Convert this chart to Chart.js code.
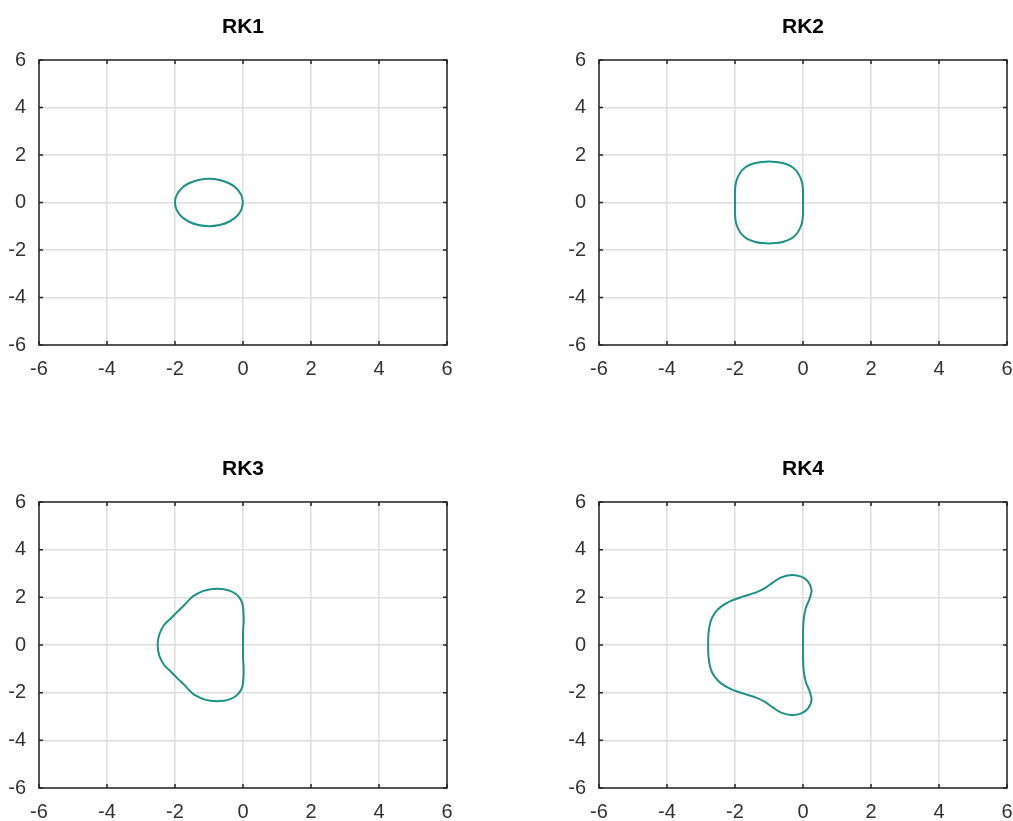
<!DOCTYPE html>
<html>
<head>
<meta charset="utf-8">
<script src="https://cdn.jsdelivr.net/npm/chart.js@4.4.0/dist/chart.umd.min.js"></script>
<style>
  html, body { margin: 0; padding: 0; background: #fff; width: 1013px; height: 821px; overflow: hidden; }
  .panel { position: absolute; width: 506px; }
</style>
</head>
<body>
<div class="panel" style="left:0;top:0;height:400px"><canvas id="rk1"></canvas></div>
<div class="panel" style="left:507px;top:0;height:400px"><canvas id="rk2"></canvas></div>
<div class="panel" style="left:0;top:442px;height:401px"><canvas id="rk3"></canvas></div>
<div class="panel" style="left:507px;top:442px;height:401px"><canvas id="rk4"></canvas></div>
<script>
const titles = ['RK1', 'RK2', 'RK3', 'RK4'];
const tickValues = [-6, -4, -2, 0, 2, 4, 6];

const rk1X = [0, -0.05, -0.19, -0.41, -0.69, -1, -1.31, -1.59, -1.81, -1.95, -2, -1.95, -1.81, -1.59, -1.31, -1, -0.69, -0.41, -0.19, -0.05, 0];
const rk1Y = [0, 0.31, 0.59, 0.81, 0.95, 1, 0.95, 0.81, 0.59, 0.31, 0, -0.31, -0.59, -0.81, -0.95, -1, -0.95, -0.81, -0.59, -0.31, 0];

const rk2X = [0, 0, -0.03, -0.1, -0.2, -0.36, -0.6, -0.8, -1, -1.2, -1.4, -1.64, -1.8, -1.9, -1.97, -2, -2, -2, -1.97, -1.9, -1.8, -1.64, -1.4, -1.2, -1, -0.8, -0.6, -0.36, -0.2, -0.1, -0.03, 0, 0];
const rk2Y = [0, 0.5, 0.85, 1.12, 1.34, 1.53, 1.66, 1.71, 1.73, 1.71, 1.66, 1.53, 1.34, 1.12, 0.85, 0.5, 0, -0.5, -0.85, -1.12, -1.34, -1.53, -1.66, -1.71, -1.73, -1.71, -1.66, -1.53, -1.34, -1.12, -0.85, -0.5, 0];

const rk3X = [0, 0, 0.02, 0.01, -0.02, -0.1, -0.22, -0.38, -0.56, -0.76, -0.96, -1.16, -1.34, -1.49, -1.71, -1.94, -2.15, -2.32, -2.46, -2.51,
              -2.46, -2.32, -2.15, -1.94, -1.71, -1.49, -1.34, -1.16, -0.96, -0.76, -0.56, -0.38, -0.22, -0.1, -0.02, 0.01, 0.02, 0, 0];
const rk3Y = [0, 0.5, 1.0, 1.45, 1.75, 1.98, 2.15, 2.27, 2.34, 2.36, 2.34, 2.27, 2.16, 2.02, 1.7, 1.38, 1.08, 0.84, 0.45, 0,
              -0.45, -0.84, -1.08, -1.38, -1.7, -2.02, -2.16, -2.27, -2.34, -2.36, -2.34, -2.27, -2.15, -1.98, -1.75, -1.45, -1.0, -0.5, 0];

const rk4X = [0, 0, 0.02, 0.08, 0.2, 0.25, 0.15, -0.05, -0.34, -0.64, -0.89, -1.13, -1.38, -1.77, -2.12, -2.41, -2.6, -2.72, -2.78, -2.79,
              -2.78, -2.72, -2.6, -2.41, -2.12, -1.77, -1.38, -1.13, -0.89, -0.64, -0.34, -0.05, 0.15, 0.25, 0.2, 0.08, 0.02, 0, 0];
const rk4Y = [0, 0.49, 1.05, 1.54, 1.96, 2.31, 2.66, 2.87, 2.94, 2.84, 2.62, 2.38, 2.21, 2.03, 1.85, 1.61, 1.33, 0.98, 0.49, 0,
              -0.49, -0.98, -1.33, -1.61, -1.85, -2.03, -2.21, -2.38, -2.62, -2.84, -2.94, -2.87, -2.66, -2.31, -1.96, -1.54, -1.05, -0.49, 0];

const curveColor = 'rgb(30,145,135)';
const axisColor = 'rgb(38,38,38)';
const labelColor = 'rgb(50,50,50)';
const gridColor = 'rgb(222,222,222)';
const fontFamily = '"Liberation Sans", Arial, sans-serif';

// box + inward tick marks on all four sides, like the original axes
const framePlugin = {
  id: 'frame',
  afterDraw(chart) {
    const { ctx, chartArea: a, scales: { x, y } } = chart;
    ctx.save();
    ctx.strokeStyle = axisColor;
    ctx.lineWidth = 1.5;
    ctx.beginPath();
    tickValues.forEach(v => {
      const px = x.getPixelForValue(v);
      ctx.moveTo(px, a.bottom); ctx.lineTo(px, a.bottom - 4);
      ctx.moveTo(px, a.top); ctx.lineTo(px, a.top + 4);
      const py = y.getPixelForValue(v);
      ctx.moveTo(a.left, py); ctx.lineTo(a.left + 4, py);
      ctx.moveTo(a.right, py); ctx.lineTo(a.right - 4, py);
    });
    ctx.stroke();
    ctx.strokeRect(a.left, a.top, a.right - a.left, a.bottom - a.top);
    ctx.restore();
  }
};

function makeChart(id, title, xs, ys, padLeft, padRight) {
  const points = xs.map((v, i) => ({ x: v, y: ys[i] }));
  return new Chart(document.getElementById(id), {
    type: 'scatter',
    data: {
      datasets: [{
        data: points,
        showLine: true,
        borderColor: curveColor,
        borderWidth: 2,
        pointRadius: 0,
        tension: 0.3,
        fill: false
      }]
    },
    options: {
      responsive: true,
      maintainAspectRatio: false,
      animation: false,
      layout: { padding: { left: padLeft, right: padRight, top: 0, bottom: 0 } },
      plugins: {
        legend: { display: false },
        tooltip: { enabled: false },
        title: {
          display: true,
          text: title,
          fullSize: false,
          color: '#000',
          font: { family: fontFamily, size: 21, weight: 'bold', lineHeight: 1.2 },
          padding: { top: 14.4, bottom: 20.4 }
        }
      },
      scales: {
        x: {
          type: 'linear',
          min: -6, max: 6,
          border: { display: false },
          grid: { color: gridColor, lineWidth: 1.5, drawTicks: false },
          ticks: { stepSize: 2, color: labelColor, padding: 12, font: { family: fontFamily, size: 20 } },
          afterFit(scale) { scale.height = 55; scale.paddingLeft = 0; scale.paddingRight = 0; }
        },
        y: {
          type: 'linear',
          min: -6, max: 6,
          border: { display: false },
          grid: { color: gridColor, lineWidth: 1.5, drawTicks: false },
          ticks: { stepSize: 2, color: labelColor, padding: 13, font: { family: fontFamily, size: 20 } },
          afterFit(scale) { scale.width = 39; scale.paddingTop = 0; scale.paddingBottom = 0; }
        }
      }
    },
    plugins: [framePlugin]
  });
}

makeChart('rk1', titles[0], rk1X, rk1Y, 0, 59);
makeChart('rk2', titles[1], rk2X, rk2Y, 53, 6);
makeChart('rk3', titles[2], rk3X, rk3Y, 0, 59);
makeChart('rk4', titles[3], rk4X, rk4Y, 53, 6);
</script>
</body>
</html>
